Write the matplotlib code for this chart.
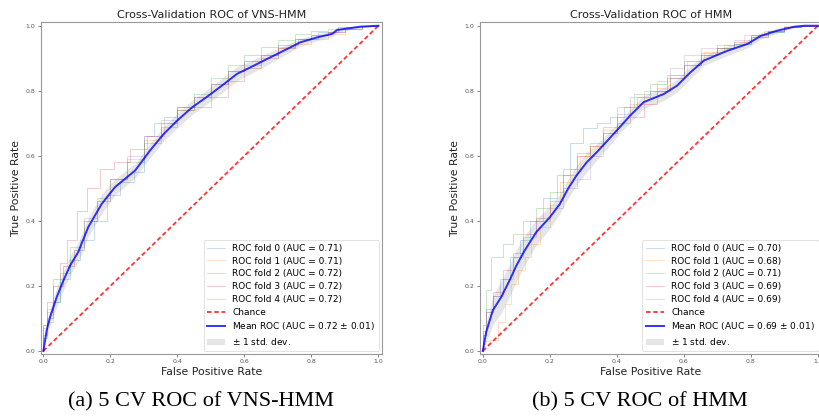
import matplotlib
matplotlib.use("Agg")
import matplotlib.pyplot as plt
import numpy as np

# ---------------- data: (a) VNS-HMM ----------------
vns_titles = "Cross-Validation ROC of VNS-HMM"
vns_caption = "(a) 5 CV ROC of VNS-HMM"
vns_fold_auc = [0.71, 0.71, 0.72, 0.72, 0.72]
vns_mean_auc = 0.72
vns_std_auc = 0.01

vns_fold0_fpr = [0, .01, .03, .05, .08, .11, .15, .19, .23, .27, .30, .33, .36, .40, .45, .50, .55, .60, .65, .70, .76, .82, .88, .94, 1]
vns_fold0_tpr = [0, .05, .10, .15, .22, .28, .34, .40, .48, .52, .55, .66, .70, .72, .75, .78, .82, .86, .89, .91, .94, .96, .98, .995, 1]
vns_fold1_fpr = [0, .01, .03, .06, .09, .12, .16, .20, .25, .30, .35, .40, .45, .50, .55, .60, .65, .70, .75, .80, .85, .90, .95, 1]
vns_fold1_tpr = [0, .08, .13, .20, .26, .31, .40, .46, .53, .59, .65, .70, .75, .78, .82, .86, .88, .91, .93, .945, .96, .975, .99, 1]
vns_fold2_fpr = [0, .01, .03, .05, .08, .12, .16, .20, .25, .30, .35, .40, .45, .50, .55, .60, .65, .70, .75, .80, .85, .90, .95, 1]
vns_fold2_tpr = [0, .04, .09, .15, .24, .32, .40, .47, .53, .58, .64, .69, .74, .79, .84, .88, .91, .935, .955, .975, .985, .99, .995, 1]
vns_fold3_fpr = [0, .01, .03, .05, .07, .10, .13, .17, .21, .26, .31, .36, .40, .45, .50, .55, .60, .65, .70, .75, .80, .85, .90, .95, 1]
vns_fold3_tpr = [0, .08, .15, .22, .27, .34, .43, .50, .56, .58, .62, .66, .70, .74, .75, .78, .83, .87, .90, .93, .96, .97, .98, .99, 1]
vns_fold4_fpr = [0, .01, .03, .06, .09, .12, .16, .20, .25, .30, .35, .40, .45, .50, .55, .60, .65, .70, .75, .80, .85, .90, .95, 1]
vns_fold4_tpr = [0, .07, .12, .20, .26, .31, .41, .46, .53, .60, .66, .71, .75, .78, .82, .86, .89, .91, .935, .96, .97, .98, .99, 1]

vns_mean_fpr = [0, .01, .02, .04, .06, .08, .104, .134, .174, .214, .274, .318, .359, .399, .444, .493, .533, .578, .618, .668, .717, .767, .817, .862, .877, .946, 1]
vns_mean_tpr = [0, .064, .104, .166, .217, .263, .304, .381, .452, .504, .555, .616, .667, .708, .749, .785, .816, .852, .872, .898, .923, .949, .964, .975, .987, .997, 1]
vns_std_tpr = [0, .02, .025, .03, .03, .03, .03, .03, .03, .025, .022, .022, .022, .022, .022, .022, .022, .022, .02, .018, .015, .012, .01, .01, .008, .004, 0]

# ---------------- data: (b) HMM ----------------
hmm_titles = "Cross-Validation ROC of HMM"
hmm_caption = "(b) 5 CV ROC of HMM"
hmm_fold_auc = [0.70, 0.68, 0.71, 0.69, 0.69]
hmm_mean_auc = 0.69
hmm_std_auc = 0.01

hmm_fold0_fpr = [0, .01, .03, .05, .08, .11, .14, .18, .22, .26, .30, .34, .38, .42, .46, .50, .55, .60, .65, .70, .75, .80, .85, .90, .95, 1]
hmm_fold0_tpr = [0, .05, .13, .17, .22, .29, .34, .40, .47, .54, .64, .685, .70, .72, .75, .78, .80, .84, .88, .91, .93, .945, .965, .98, .995, 1]
hmm_fold1_fpr = [0, .02, .045, .065, .085, .105, .125, .145, .17, .20, .23, .26, .29, .32, .36, .40, .44, .48, .52, .56, .61, .66, .72, .78, .84, .90, .96, 1]
hmm_fold1_tpr = [0, .03, .033, .09, .146, .207, .25, .289, .33, .38, .45, .52, .56, .60, .63, .68, .72, .76, .78, .81, .85, .89, .92, .94, .97, .985, 1, 1]
hmm_fold2_fpr = [0, .01, .025, .06, .09, .12, .16, .20, .24, .28, .32, .36, .40, .45, .50, .55, .60, .65, .70, .75, .80, .85, .90, .95, 1]
hmm_fold2_tpr = [0, .08, .186, .29, .33, .36, .40, .44, .49, .56, .61, .64, .69, .75, .79, .82, .85, .89, .915, .93, .945, .965, .98, .995, 1]
hmm_fold3_fpr = [0, .01, .03, .06, .09, .12, .16, .20, .24, .28, .32, .36, .40, .44, .48, .52, .56, .60, .65, .70, .75, .80, .85, .90, .95, 1]
hmm_fold3_tpr = [0, .06, .12, .18, .25, .30, .36, .41, .46, .54, .60, .63, .67, .70, .72, .76, .80, .84, .88, .91, .93, .95, .97, .985, .995, 1]
hmm_fold4_fpr = [0, .01, .03, .06, .09, .12, .16, .20, .24, .28, .32, .36, .40, .44, .48, .52, .56, .60, .65, .70, .75, .80, .85, .90, .95, 1]
hmm_fold4_tpr = [0, .05, .12, .17, .22, .29, .35, .40, .44, .50, .53, .60, .67, .73, .78, .80, .83, .87, .91, .93, .94, .955, .97, .985, .995, 1]

hmm_mean_fpr = [0, .01, .03, .055, .08, .10, .125, .16, .20, .23, .255, .28, .31, .34, .40, .44, .48, .54, .58, .62, .66, .73, .79, .83, .88, .93, .96, 1]
hmm_mean_tpr = [0, .058, .125, .166, .217, .262, .309, .366, .411, .452, .50, .54, .58, .611, .678, .724, .765, .79, .816, .857, .893, .923, .944, .969, .985, .997, 1, 1]
hmm_std_tpr = [0, .03, .045, .05, .05, .05, .045, .04, .035, .03, .03, .03, .03, .025, .02, .02, .02, .02, .02, .02, .015, .015, .012, .01, .008, .004, .002, 0]

ticks = [0.0, 0.2, 0.4, 0.6, 0.8, 1.0]
tick_labels = ["0.0", "0.2", "0.4", "0.6", "0.8", "1.0"]

fold_colors = ["#1f77b4", "#ff7f0e", "#2ca02c", "#d62728", "#9467bd"]

fig = plt.figure(figsize=(8.2, 4.16), dpi=100)
ax1 = fig.add_axes([0.0496, 0.150, 0.416, 0.796])
ax2 = fig.add_axes([0.5855, 0.150, 0.416, 0.796])

panels = [
    (ax1, vns_titles, vns_caption, 0.245,
     [(vns_fold0_fpr, vns_fold0_tpr), (vns_fold1_fpr, vns_fold1_tpr), (vns_fold2_fpr, vns_fold2_tpr),
      (vns_fold3_fpr, vns_fold3_tpr), (vns_fold4_fpr, vns_fold4_tpr)],
     vns_fold_auc, vns_mean_fpr, vns_mean_tpr, vns_std_tpr, vns_mean_auc, vns_std_auc),
    (ax2, hmm_titles, hmm_caption, 0.780,
     [(hmm_fold0_fpr, hmm_fold0_tpr), (hmm_fold1_fpr, hmm_fold1_tpr), (hmm_fold2_fpr, hmm_fold2_tpr),
      (hmm_fold3_fpr, hmm_fold3_tpr), (hmm_fold4_fpr, hmm_fold4_tpr)],
     hmm_fold_auc, hmm_mean_fpr, hmm_mean_tpr, hmm_std_tpr, hmm_mean_auc, hmm_std_auc),
]

for ax, title, caption, cap_x, folds, aucs, mfpr, mtpr, stpr, mauc, sauc in panels:
    for i, ((f, t), a) in enumerate(zip(folds, aucs)):
        ax.plot(f, t, drawstyle="steps-pre", lw=0.7, alpha=0.25, color=fold_colors[i],
                label="ROC fold %d (AUC = %0.2f)" % (i, a))
    ax.plot([0, 1], [0, 1], linestyle="--", lw=1.3, color="r", alpha=0.8, label="Chance",
            dashes=(2.5, 1.5))
    mf = np.array(mfpr)
    mt = np.array(mtpr)
    st = np.array(stpr)
    ax.plot(mf, mt, color="b", lw=1.4, alpha=0.8,
            label="Mean ROC (AUC = %0.2f $\\pm$ %0.2f)" % (mauc, sauc))
    ax.fill_between(mf, np.clip(mt - st, 0, 1), np.clip(mt + st, 0, 1), color="grey", alpha=0.2,
                    lw=0, label="$\\pm$ 1 std. dev.")
    ax.set_xlim(-0.008, 1.01)
    ax.set_ylim(-0.008, 1.01)
    ax.set_xticks(ticks)
    ax.set_xticklabels(tick_labels)
    ax.set_yticks(ticks)
    ax.set_yticklabels(tick_labels)
    ax.tick_params(labelsize=4.5, colors="#555555", length=2, width=0.5, pad=2)
    for s in ax.spines.values():
        s.set_color("#999999")
        s.set_linewidth(0.8)
    ax.set_title(title, fontsize=8, color="#222222", pad=3)
    ax.set_xlabel("False Positive Rate", fontsize=7.8, color="#222222", labelpad=2)
    ax.set_ylabel("True Positive Rate", fontsize=7.8, color="#222222", labelpad=3)
    leg = ax.legend(loc="lower right", fontsize=6.5, borderaxespad=0.3, framealpha=1,
                    labelspacing=0.42)
    leg.get_frame().set_edgecolor("#dddddd")
    leg.get_frame().set_linewidth(0.6)
    fig.text(cap_x, 0.034, caption, ha="center", va="center", fontsize=16,
             family="Liberation Serif", color="black")

fig.savefig("out.png", dpi=100)
